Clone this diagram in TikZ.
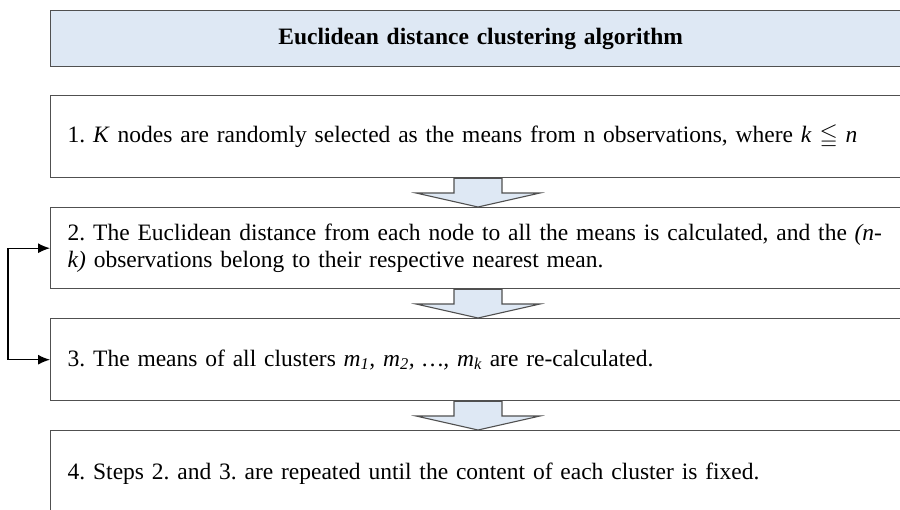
\documentclass[tikz,border=0pt]{standalone}
\usepackage{amssymb}
\usepackage{fontspec}
\setmainfont{Liberation Serif}
\usetikzlibrary{arrows.meta,calc}
\definecolor{boxline}{HTML}{505050}
\definecolor{paleblue}{HTML}{DEE8F4}
\tikzset{
  stepbox/.style={draw=boxline, line width=1.4pt, anchor=north west, minimum width=860pt,
    text width=850pt, inner xsep=17pt, inner ysep=0pt, align=left, font=\fontsize{23.5}{26.5}\selectfont},
  titlebox/.style={stepbox, fill=paleblue, align=center, text width=826pt, inner xsep=17pt,
    font=\fontsize{23.5}{26}\selectfont\bfseries},
  blockarrow/.style={draw=boxline, line width=1.1pt, fill=paleblue, line join=miter},
  loopline/.style={draw=black, line width=1.3pt, {Latex[length=12pt,width=10pt]}-{Latex[length=12pt,width=10pt]}}
}
\begin{document}
\frenchspacing
\begin{tikzpicture}[x=1pt,y=-1pt]
\clip (0,0) rectangle (900,509);
\fill[white] (0,0) rectangle (900,509);
\node[titlebox, minimum height=56pt] (title) at (50,10) {Euclidean distance clustering algorithm};
\node[stepbox, minimum height=82pt] (b1) at (50,95) {1. \textit{K} nodes are randomly selected as the means from n observations, where \textit{k} $\leqq$ \textit{n}};
\node[stepbox, minimum height=81pt] (b2) at (50,207) {2. The Euclidean distance from each node to all the means is calculated, and the \textit{(n-}\\\textit{k)} observations belong to their respective nearest mean.};
\node[stepbox, minimum height=82pt] (b3) at (50,318) {3. The means of all clusters \textit{m\textsubscript{1}, m\textsubscript{2}, \dots, m\textsubscript{k}} are re-calculated.};
\node[stepbox, minimum height=86pt] (b4) at (50,430) {4. Steps 2. and 3. are repeated until the content of each cluster is fixed.};
% block arrows
\foreach \a/\b in {b1/b2, b2/b3, b3/b4}{
  \path let \p1=(\a.south), \p2=(\b.north) in
    coordinate (top) at (478,\y1)
    coordinate (tip) at (478,\y2);
  \draw[blockarrow] ($(top)+(-24,0)$) -- ($(top)+(24,0)$) -- ($(tip)+(24,-14)$) -- ($(tip)+(62,-14)$)
     -- (tip) -- ($(tip)+(-62,-14)$) -- ($(tip)+(-24,-14)$) -- cycle;
}
% feedback loop
\coordinate (loopx) at (8,0);
\draw[loopline] (b2.west) -| (loopx |- b3.west) -- (b3.west);
\end{tikzpicture}
\end{document}
